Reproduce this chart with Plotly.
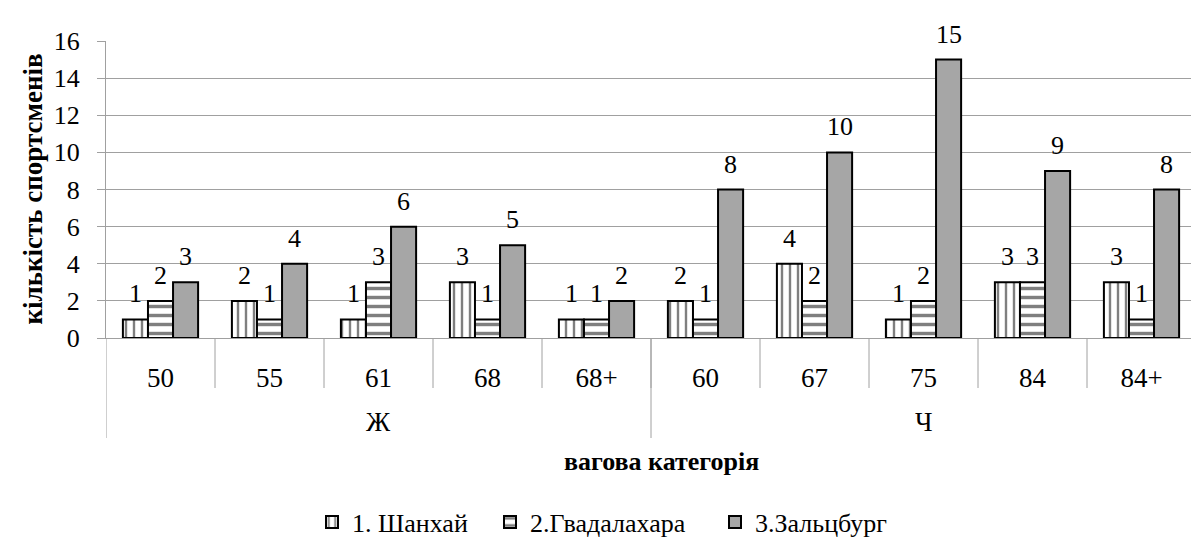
import plotly.graph_objects as go

genders = ["Ж"] * 5 + ["Ч"] * 5
weights = ["50", "55", "61", "68", "68+", "60", "67", "75", "84", "84+"]
shanghai = [1, 2, 1, 3, 1, 2, 4, 1, 3, 3]
guadalajara = [2, 1, 3, 1, 1, 1, 2, 2, 3, 1]
salzburg = [3, 4, 6, 5, 2, 8, 10, 15, 9, 8]
series_names = ["1. Шанхай", "2.Гвадалахара", "3.Зальцбург"]

FONT = "Liberation Serif"
GRID = "#A0A0A0"
W, H = 1199, 538
ML, MR, MT, MB = 98, 11, 33, 208
PW = W - ML - MR
PH = H - MT - MB
BARGAP = 0.31


def py(px):
    return -px / PH


def pxx(px):
    return (px - ML) / PW


series = [shanghai, guadalajara, salzburg]
markers = [
    dict(color="white", line=dict(color="black", width=2),
         pattern=dict(shape="|", fgcolor="black", bgcolor="white", size=8, solidity=0.3)),
    dict(color="white", line=dict(color="black", width=2),
         pattern=dict(shape="-", fgcolor="black", bgcolor="white", size=9, solidity=0.38)),
    dict(color="#A6A6A6", line=dict(color="black", width=2)),
]
legends = ["legend", "legend2", "legend3"]

fig = go.Figure()
for vals, name, mk, lg in zip(series, series_names, markers, legends):
    fig.add_trace(go.Bar(x=weights, y=vals, name=name, legend=lg, marker=mk))

annotations = []
# value labels above bars
bw = (1 - BARGAP) / len(series)
for k, vals in enumerate(series):
    off = (k - (len(series) - 1) / 2) * bw
    for i, v in enumerate(vals):
        annotations.append(dict(text=str(v), x=i + off, xref="x", y=v, yref="y",
                                showarrow=False, xanchor="center", yanchor="bottom", yshift=9,
                                font=dict(family=FONT, size=26, color="black")))

shapes = []
n = len(weights)
for i in range(n - 1):
    shapes.append(dict(type="line", xref="x", yref="paper", x0=i + 0.5, x1=i + 0.5,
                       y0=0, y1=py(50), line=dict(color=GRID, width=1)))
groups = []
for g in genders:
    if g not in groups:
        groups.append(g)
bounds = [-0.5]
for g in groups:
    idx = [i for i, v in enumerate(genders) if v == g]
    bounds.append(max(idx) + 0.5)
for b in bounds:
    shapes.append(dict(type="line", xref="x", yref="paper", x0=b, x1=b,
                       y0=0, y1=py(100), line=dict(color=GRID, width=1)))

for g in groups:
    idx = [i for i, v in enumerate(genders) if v == g]
    annotations.append(dict(text=g, x=sum(idx) / len(idx), xref="x", y=py(84), yref="paper",
                            showarrow=False, xanchor="center", yanchor="middle",
                            font=dict(family=FONT, size=27, color="black")))
annotations.append(dict(text="<b>вагова категорія</b>", x=0.51, xref="paper", y=py(124), yref="paper",
                        showarrow=False, xanchor="center", yanchor="middle",
                        font=dict(family=FONT, size=26, color="black")))
annotations.append(dict(text="<b>кількість спортсменів</b>", x=pxx(24), xref="paper",
                        y=0.5, yref="paper", showarrow=False, textangle=-90,
                        xanchor="center", yanchor="middle",
                        font=dict(family=FONT, size=27, color="black")))

leg_common = dict(orientation="h", xanchor="left", y=py(184), yanchor="middle",
                  font=dict(family=FONT, size=26), bgcolor="rgba(0,0,0,0)")
fig.update_layout(
    width=W, height=H,
    margin=dict(l=ML, r=MR, t=MT, b=MB, autoexpand=False),
    paper_bgcolor="white", plot_bgcolor="white",
    font=dict(family=FONT, size=26, color="black"),
    barmode="group", bargap=BARGAP, bargroupgap=0,
    showlegend=True,
    legend=dict(x=pxx(304), **leg_common),
    legend2=dict(x=pxx(482), **leg_common),
    legend3=dict(x=pxx(707), **leg_common),
    shapes=shapes, annotations=annotations,
)
fig.update_yaxes(
    range=[0, 16], dtick=2, showgrid=True, gridcolor=GRID, gridwidth=1,
    showline=True, linecolor=GRID, linewidth=1, ticks="outside", ticklen=8,
    tickcolor=GRID, tickfont=dict(family=FONT, size=26), zeroline=False,
    ticklabelstandoff=12, automargin=False,
)
fig.update_xaxes(
    type="category", showline=True, linecolor=GRID, linewidth=1,
    ticks="", ticklabelstandoff=16, range=[-0.5, n - 0.5],
    tickfont=dict(family=FONT, size=27), automargin=False,
)

fig.write_html("out.html")
